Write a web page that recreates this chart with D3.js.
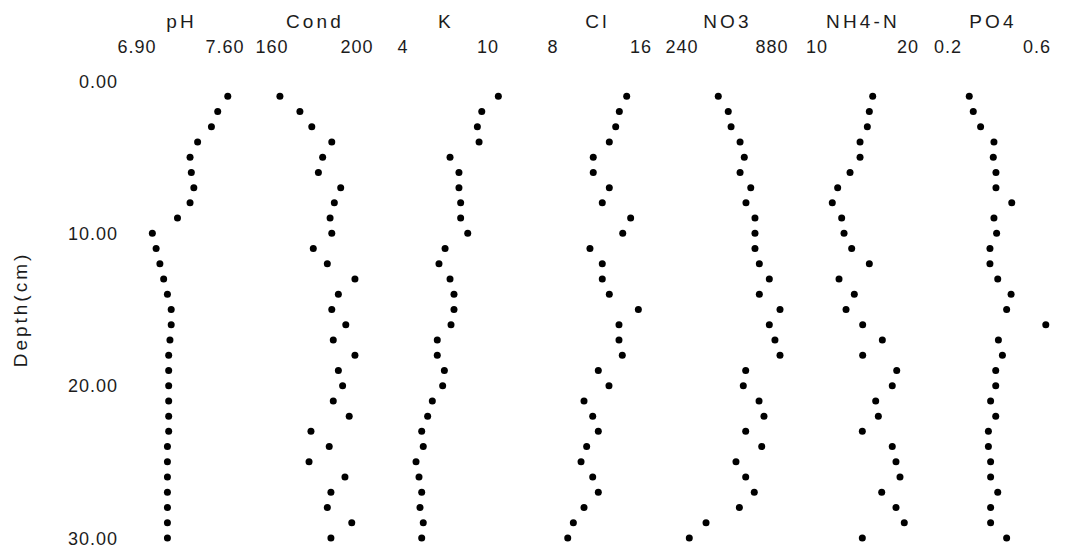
<!DOCTYPE html>
<html>
<head>
<meta charset="utf-8">
<script src="https://cdn.jsdelivr.net/npm/d3@7"></script>
<style>
  html, body { margin: 0; padding: 0; background: #fff; }
  svg { display: block; }
  text { font-family: "Liberation Sans", Arial, Helvetica, sans-serif; fill: #1c1c1c; }
</style>
</head>
<body>
<svg id="chart" width="1083" height="553"></svg>
<script>
// --- data (depth in cm, one sample per cm) ---
const depths = [1, 2, 3, 4, 5, 6, 7, 8, 9, 10, 11, 12, 13, 14, 15,
                16, 17, 18, 19, 20, 21, 22, 23, 24, 25, 26, 27, 28, 29, 30];

const pH   = [7.63, 7.55, 7.50, 7.39, 7.33, 7.34, 7.36, 7.33, 7.23, 7.03, 7.06, 7.09, 7.12, 7.15, 7.18,
              7.18, 7.17, 7.16, 7.16, 7.16, 7.16, 7.16, 7.16, 7.15, 7.15, 7.15, 7.15, 7.15, 7.15, 7.15];
const cond = [164.2, 173.6, 179.2, 188.6, 184.3, 182.3, 192.8, 189.8, 187.8, 188.6, 179.9, 186.5, 199.5, 191.7, 188.6,
              195.2, 189.3, 199.5, 191.7, 193.7, 189.3, 196.8, 178.8, 187.4, 177.9, 194.8, 188.2, 186.5, 198.0, 188.2];
const K    = [10.80, 9.63, 9.32, 9.44, 7.39, 8.02, 8.02, 8.14, 8.14, 8.64, 7.04, 6.61, 7.39, 7.67, 7.67,
              7.46, 6.49, 6.49, 6.99, 6.87, 6.14, 5.81, 5.39, 5.50, 4.99, 5.20, 5.39, 5.27, 5.50, 5.39];
const Cl   = [14.79, 14.12, 13.79, 13.21, 11.75, 11.75, 13.21, 12.57, 15.15, 14.43, 11.45, 12.57, 12.57, 13.21, 15.85,
              14.09, 14.09, 14.39, 12.21, 13.18, 10.91, 11.70, 12.21, 11.15, 10.64, 11.70, 12.21, 10.91, 9.94, 9.43];
const NO3  = [505, 576, 596, 660, 690, 660, 736, 702, 766, 766, 766, 797, 868, 797, 944,
              868, 908, 944, 700, 683, 795, 830, 700, 814, 631, 700, 761, 655, 418, 299];
const NH4N = [16.23, 15.86, 15.64, 14.84, 14.84, 13.74, 12.38, 11.79, 12.82, 13.08, 13.92, 15.86, 12.53, 14.21, 13.30,
              15.13, 17.29, 15.13, 18.87, 18.38, 16.56, 16.85, 15.09, 18.38, 18.79, 19.23, 17.22, 18.79, 19.70, 15.09];
const PO4  = [0.300, 0.318, 0.351, 0.411, 0.408, 0.420, 0.420, 0.491, 0.411, 0.423, 0.393, 0.393, 0.428, 0.488, 0.468,
              0.644, 0.431, 0.449, 0.419, 0.419, 0.396, 0.419, 0.386, 0.386, 0.396, 0.396, 0.428, 0.396, 0.396, 0.468];

const panelNames  = ["pH", "Cond", "K", "Cl", "NO3", "NH4-N", "PO4"];
const panelValues = [pH, cond, K, Cl, NO3, NH4N, PO4];
const panelTicks  = [[6.90, 7.60], [160, 200], [4, 10], [8, 16], [240, 880], [10, 20], [0.2, 0.6]];
const panelFormat = [".2f", "d", "d", "d", "d", "d", ".1f"];
const depthTicks  = [0, 10, 20, 30];

// --- layout (pixel columns of each panel's tick labels) ---
const panelRange = [[136, 224], [271, 356], [402, 487], [552, 640], [681, 771], [816, 907], [947, 1036]];

const svg = d3.select("#chart");
svg.append("rect").attr("width", 1083).attr("height", 553).attr("fill", "#fff");

const y = d3.scaleLinear().domain([0, 30]).range([81, 538]);

// depth axis, labels only
const yAxis = svg.append("g")
    .attr("transform", "translate(119,0)")
    .call(d3.axisLeft(y).tickValues(depthTicks).tickFormat(d3.format(".2f")).tickSize(0).tickPadding(1));
yAxis.select(".domain").remove();
yAxis.selectAll("text")
    .style("font-size", "18px").style("letter-spacing", "1px")
    .attr("dy", "0.35em");

svg.append("text")
    .attr("transform", `translate(27,${y(15)}) rotate(-90)`)
    .attr("text-anchor", "middle")
    .style("font-size", "19px").style("letter-spacing", "3px")
    .text("Depth(cm)");

panelNames.forEach((name, i) => {
    const [lo, hi] = panelTicks[i];
    const x = d3.scaleLinear().domain([lo, hi]).range(panelRange[i]);
    const g = svg.append("g");

    const xAxis = g.append("g")
        .attr("transform", "translate(0,53)")
        .call(d3.axisTop(x).tickValues(panelTicks[i]).tickFormat(d3.format(panelFormat[i])).tickSize(0).tickPadding(0));
    xAxis.select(".domain").remove();
    xAxis.selectAll("text")
        .attr("dy", 0)
        .attr("dx", "0.5px")
        .style("font-size", "18px").style("letter-spacing", "1px");

    g.append("text")
        .attr("x", (x.range()[0] + x.range()[1]) / 2 + 1.5)
        .attr("y", 28)
        .attr("text-anchor", "middle")
        .style("font-size", "19px").style("letter-spacing", "3.2px")
        .text(name);

    g.append("g").selectAll("circle")
        .data(depths.map((d, j) => ({ depth: d, value: panelValues[i][j] })))
        .enter().append("circle")
        .attr("cx", d => x(d.value))
        .attr("cy", d => y(d.depth))
        .attr("r", 3.5)
        .attr("fill", "#000");
});
</script>
</body>
</html>
